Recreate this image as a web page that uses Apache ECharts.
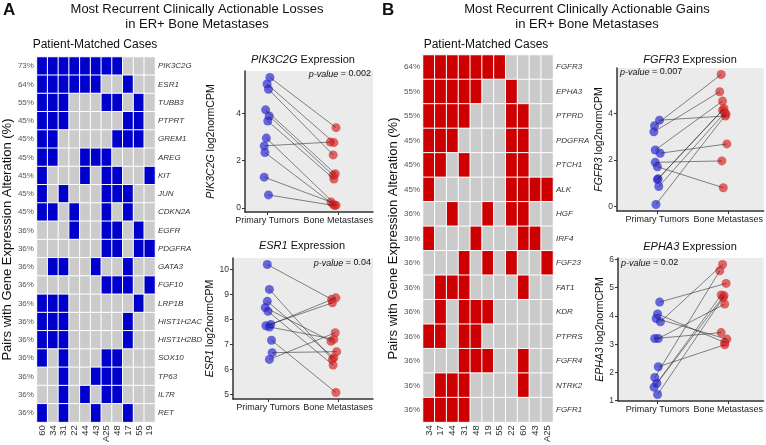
<!DOCTYPE html>
<html><head><meta charset="utf-8">
<script src="https://cdn.jsdelivr.net/npm/echarts@6/dist/echarts.min.js"></script>
<style>html,body{margin:0;padding:0;background:#fff}#c{width:766px;height:445px}</style>
</head><body><div id="c"></div>
<script>
// ---------- DATA ----------
const lossCases = ['60','34','31','22','44','43','A25','48','17','55','19'];
const lossGenes = ['PIK3C2G','ESR1','TUBB3','PTPRT','GREM1','AREG','KIT','JUN','CDKN2A','EGFR','PDGFRA','GATA3','FGF10','LRP1B','HIST1H2AC','HIST1H2BD','SOX10','TP63','IL7R','RET'];
const lossPct = [73,64,55,45,45,45,45,45,45,36,36,36,36,36,36,36,36,36,36,36];
const lossMatrix = [
  [1,1,1,1,1,1,1,1,0,0,0],
  [1,1,1,1,1,1,0,0,1,0,0],
  [1,1,1,0,0,0,1,1,0,1,0],
  [1,1,1,0,0,0,0,0,1,1,0],
  [1,1,0,0,0,0,0,1,1,1,0],
  [1,1,0,0,1,1,1,0,0,0,0],
  [1,0,0,0,1,0,1,1,0,0,1],
  [1,0,1,0,0,0,1,1,1,0,0],
  [1,1,0,1,0,0,1,0,1,0,0],
  [0,0,0,1,0,0,1,1,0,1,0],
  [0,0,0,0,0,0,1,1,0,1,1],
  [0,1,1,0,0,1,0,0,1,0,0],
  [0,0,0,0,0,0,1,1,1,0,1],
  [1,1,1,0,0,0,0,0,0,1,0],
  [1,1,1,0,0,0,0,0,1,0,0],
  [1,1,1,0,0,0,0,0,1,0,0],
  [1,0,1,0,0,0,1,1,0,0,0],
  [0,0,1,0,0,1,1,1,0,0,0],
  [0,0,1,0,1,0,1,1,0,0,0],
  [1,0,1,0,0,1,0,0,1,0,0]
];
const gainCases = ['34','17','44','31','48','19','55','22','60','43','A25'];
const gainGenes = ['FGFR3','EPHA3','PTPRD','PDGFRA','PTCH1','ALK','HGF','IRF4','FGF23','FAT1','KDR','PTPRS','FGFR4','NTRK2','FGFR1'];
const gainPct = [64,55,55,45,45,45,36,36,36,36,36,36,36,36,36];
const gainMatrix = [
  [1,1,1,1,1,1,1,0,0,0,0],
  [1,1,1,1,1,0,0,1,0,0,0],
  [1,1,1,1,0,0,0,1,1,0,0],
  [1,1,1,0,0,0,0,1,1,0,0],
  [1,1,0,1,0,0,0,1,1,0,0],
  [1,0,0,0,0,0,0,1,1,1,1],
  [0,0,1,0,0,1,0,1,1,0,0],
  [1,0,0,0,1,0,0,0,1,1,0],
  [0,0,0,1,0,1,0,1,0,0,1],
  [0,1,1,1,0,0,0,0,1,0,0],
  [0,1,0,1,1,1,0,0,0,0,0],
  [1,1,0,1,1,0,0,0,0,0,0],
  [0,0,0,1,1,1,0,0,1,0,0],
  [0,1,1,1,0,0,0,0,1,0,0],
  [1,1,1,1,0,0,0,0,0,0,0]
];
const groupLabels = ['Primary Tumors','Bone Metastases'];

// paired expression values (primary[i] <-> bone[i]); X arrays = jittered group positions
const pik3Primary  = [5.51,5.23,5.01,4.14,3.88,3.67,2.95,2.62,2.34,1.30,0.55];
const pik3PrimaryX = [1.04,1.00,1.02,0.98,1.03,1.01,0.99,0.96,0.97,0.96,1.02];
const pik3Bone     = [3.39,2.76,2.24,1.44,1.38,1.22,0.12,2.78,0.15,0.25,0.10];
const pik3BoneX    = [1.97,1.94,1.93,1.96,1.93,1.94,1.97,1.89,1.93,1.90,1.95];

const esr1Primary  = [10.21,9.21,8.73,8.48,8.33,7.80,7.75,7.70,7.17,6.67,6.40];
const esr1PrimaryX = [0.99,1.02,0.99,0.96,1.00,1.04,0.97,1.02,1.05,1.06,1.02];
const esr1Bone     = [8.81,6.40,6.47,7.13,6.17,8.87,8.67,7.21,5.07,6.71,7.47];
const esr1BoneX    = [1.91,1.92,1.94,1.90,1.93,1.97,1.92,1.94,1.97,1.98,1.96];

const fgfr3Primary  = [3.71,3.47,3.21,2.43,2.29,1.90,1.71,1.19,1.16,0.86,0.09];
const fgfr3PrimaryX = [1.03,0.96,0.95,0.97,1.04,0.97,1.00,1.01,1.00,1.02,0.98];
const fgfr3Bone     = [3.89,5.67,4.93,4.53,2.69,1.96,0.81,4.21,4.14,4.03,3.97];
const fgfr3BoneX    = [1.96,1.90,1.88,1.92,1.98,1.91,1.93,1.94,1.92,1.95,1.97];

const epha3Primary  = [4.49,4.07,3.91,3.79,3.20,3.20,2.20,1.82,1.62,1.48,1.22];
const epha3PrimaryX = [1.03,1.00,0.98,1.04,0.96,1.01,1.01,0.96,0.99,0.95,1.00];
const epha3Bone     = [5.15,3.06,3.18,5.82,3.41,4.42,2.98,5.60,4.74,4.72,4.65];
const epha3BoneX    = [1.97,1.95,1.98,1.92,1.90,1.95,1.95,1.88,1.90,1.94,1.93];

const pValues = ['0.002','0.04','0.007','0.02'];
const yTicksPik3 = [0,2,4], yTicksEsr1 = [5,6,7,8,9,10], yTicksFgfr3 = [0,2,4], yTicksEpha3 = [1,2,3,4,5,6];

// ---------- CHART ----------
const FONT = '"Liberation Sans", Arial, Helvetica, sans-serif';
const GRAY = '#CBCBCB', BLUE = '#0000CC', RED = '#CC0000';
const chart = echarts.init(document.getElementById('c'), null, {renderer:'canvas'});

function heatData(m){ const d=[]; m.forEach((row,r)=>row.forEach((v,c)=>d.push([c,r,v]))); return d; }

function heatAxes(gi, cases, genes, pct){
  return {
    x: {type:'category', gridIndex:gi, data:cases, position:'bottom',
        axisLine:{show:false}, axisTick:{show:false}, splitLine:{show:false},
        axisLabel:{rotate:90, fontSize:9.5, color:'#333', margin:3, interval:0, fontFamily:FONT}},
    yl: {type:'category', gridIndex:gi, data:genes, inverse:true, position:'left',
        axisLine:{show:false}, axisTick:{show:false}, splitLine:{show:false},
        axisLabel:{formatter:(v,i)=>pct[i]+'%', fontSize:8, color:'#555', margin:3, interval:0, fontFamily:FONT},
        name:'Pairs with Gene Expression Alteration (%)', nameLocation:'middle', nameRotate:90, nameGap:20,
        nameTextStyle:{fontSize:13, color:'#111', fontFamily:FONT}},
    yr: {type:'category', gridIndex:gi, data:genes, inverse:true, position:'right',
        axisLine:{show:false}, axisTick:{show:false}, splitLine:{show:false},
        axisLabel:{fontStyle:'italic', fontSize:8, color:'#333', margin:3, interval:0, fontFamily:FONT}}
  };
}

function scatterX(gi, min, max){
  return {type:'value', gridIndex:gi, min, max, splitLine:{show:false},
    axisLine:{show:true, onZero:false, lineStyle:{color:'#333', width:1.5}},
    axisTick:{show:true, customValues:[1,2], length:3, lineStyle:{color:'#333'}},
    axisLabel:{customValues:[1,2], formatter:v=>groupLabels[Math.round(v)-1], fontSize:9, color:'#222', margin:4,
      fontFamily:FONT, hideOverlap:false, showMinLabel:true, showMaxLabel:true}};
}
function scatterY(gi, min, max, ticks, gene, gap){
  return {type:'value', gridIndex:gi, min, max, splitLine:{show:false},
    axisLine:{show:true, onZero:false, lineStyle:{color:'#333', width:1.5}},
    axisTick:{show:true, customValues:ticks, length:3, lineStyle:{color:'#333'}},
    axisLabel:{customValues:ticks, fontSize:8.5, color:'#333', margin:4, fontFamily:FONT},
    name:'{i|'+gene+'} log2normCPM', nameLocation:'middle', nameRotate:90, nameGap:gap,
    nameTextStyle:{fontSize:10.5, color:'#111', fontFamily:FONT,
      rich:{i:{fontStyle:'italic', fontSize:10.5, color:'#111', fontFamily:FONT}}}};
}
function pairSeries(gi, yi, prim, primX, bone, boneX){
  const lines = prim.map((p,i)=>({coords:[[primX[i],p],[boneX[i],bone[i]]]}));
  return [
    {type:'scatter', xAxisIndex:gi, yAxisIndex:yi, symbolSize:9, z:2, silent:true,
     itemStyle:{color:'rgba(40,40,210,0.85)'}, data:prim.map((p,i)=>[primX[i],p])},
    {type:'scatter', xAxisIndex:gi, yAxisIndex:yi, symbolSize:9, z:2, silent:true,
     itemStyle:{color:'rgba(215,35,35,0.85)'}, data:bone.map((b,i)=>[boneX[i],b])},
    {type:'lines', coordinateSystem:'cartesian2d', xAxisIndex:gi, yAxisIndex:yi, z:3, silent:true,
     lineStyle:{color:'#222', width:0.6, opacity:0.9}, data:lines}
  ];
}

const hL = heatAxes(0, lossCases, lossGenes, lossPct);
const hR = heatAxes(1, gainCases, gainGenes, gainPct);

const xAxes = [hL.x, hR.x,
  scatterX(2, 0.69, 2.49), scatterX(3, 0.50, 2.50), scatterX(4, 0.43, 2.50), scatterX(5, 0.44, 2.50)];
const yAxes = [hL.yl, hL.yr, hR.yl, hR.yr,
  scatterY(2, -0.17, 5.78, yTicksPik3, 'PIK3C2G', 28),
  scatterY(3, 4.81, 10.47, yTicksEsr1, 'ESR1', 14),
  scatterY(4, -0.19, 5.95, yTicksFgfr3, 'FGFR3', 5),
  scatterY(5, 0.99, 6.05, yTicksEpha3, 'EPHA3', 8)];

const bg = {show:true, backgroundColor:'#EBEBEB', borderWidth:0};
const txt = (x,y,text,size,opts)=>Object.assign({type:'text', x, y, silent:true,
  style:Object.assign({text, fontSize:size, fontFamily:FONT, fill:'#111', align:'center', verticalAlign:'middle'}, opts||{})});
const ital = (size)=>({i:{fontStyle:'italic', fontSize:size, fontFamily:FONT, fill:'#111'}, n:{fontSize:size, fontFamily:FONT, fill:'#111'}});

chart.setOption({
  animation:false,
  textStyle:{fontFamily:FONT},
  grid:[
    {left:35, top:57, width:120, height:366},
    {left:423, top:55, width:130, height:368},
    Object.assign({left:245, top:71, width:128, height:141}, bg),
    Object.assign({left:233, top:258, width:140, height:141}, bg),
    Object.assign({left:617, top:68, width:149, height:143}, bg),
    Object.assign({left:618, top:258, width:148, height:143}, bg)
  ],
  xAxis:xAxes,
  yAxis:yAxes,
  visualMap:[
    {type:'piecewise', show:false, seriesIndex:0, dimension:2, pieces:[{value:0,color:GRAY},{value:1,color:BLUE}]},
    {type:'piecewise', show:false, seriesIndex:1, dimension:2, pieces:[{value:0,color:GRAY},{value:1,color:RED}]}
  ],
  series:[
    {type:'heatmap', xAxisIndex:0, yAxisIndex:0, data:heatData(lossMatrix), silent:true,
     itemStyle:{borderColor:'#fff', borderWidth:1}},
    {type:'heatmap', xAxisIndex:1, yAxisIndex:2, data:heatData(gainMatrix), silent:true,
     itemStyle:{borderColor:'#fff', borderWidth:1}},
    ...pairSeries(2,4, pik3Primary, pik3PrimaryX, pik3Bone, pik3BoneX),
    ...pairSeries(3,5, esr1Primary, esr1PrimaryX, esr1Bone, esr1BoneX),
    ...pairSeries(4,6, fgfr3Primary, fgfr3PrimaryX, fgfr3Bone, fgfr3BoneX),
    ...pairSeries(5,7, epha3Primary, epha3PrimaryX, epha3Bone, epha3BoneX)
  ],
  graphic:[
    txt(3,2,'A',17,{fontWeight:'bold', align:'left', verticalAlign:'top'}),
    txt(382,2,'B',17,{fontWeight:'bold', align:'left', verticalAlign:'top'}),
    txt(197,9,'Most Recurrent Clinically Actionable Losses',13),
    txt(197,24,'in ER+ Bone Metastases',13),
    txt(587,9,'Most Recurrent Clinically Actionable Gains',13),
    txt(587,24,'in ER+ Bone Metastases',13),
    txt(95,45,'Patient-Matched Cases',12),
    txt(486,45,'Patient-Matched Cases',12),
    txt(303,60,'{i|PIK3C2G}{n| Expression}',11,{rich:ital(11)}),
    txt(302,246,'{i|ESR1}{n| Expression}',11,{rich:ital(11)}),
    txt(690,60,'{i|FGFR3}{n| Expression}',11,{rich:ital(11)}),
    txt(690,247,'{i|EPHA3}{n| Expression}',11,{rich:ital(11)}),
    txt(371,74,'{i|p-value}{n| = '+pValues[0]+'}',9,{align:'right', rich:ital(9)}),
    txt(371,263,'{i|p-value}{n| = '+pValues[1]+'}',9,{align:'right', rich:ital(9)}),
    txt(620,72,'{i|p-value}{n| = '+pValues[2]+'}',9,{align:'left', rich:ital(9)}),
    txt(621,263,'{i|p-value}{n| = '+pValues[3]+'}',9,{align:'left', rich:ital(9)})
  ]
});
</script></body></html>
